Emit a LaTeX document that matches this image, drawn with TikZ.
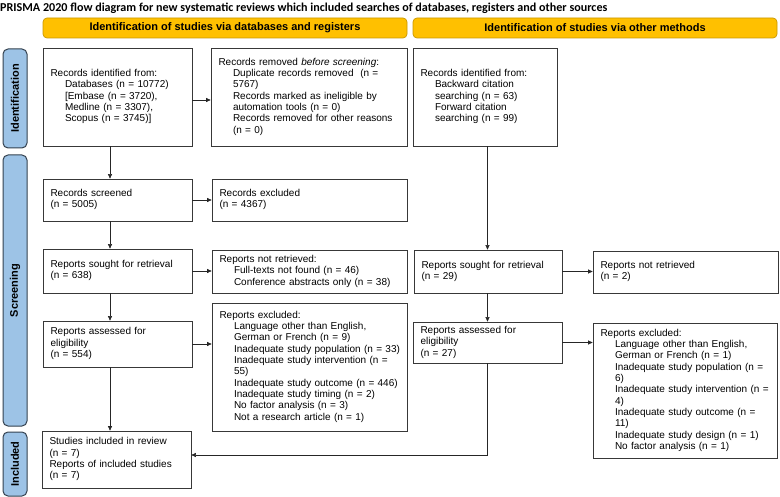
\documentclass[tikz,border=0pt]{standalone}
\usepackage{fontspec}
\setmainfont{Liberation Sans}
\newfontfamily\titlefont{Carlito}
\usetikzlibrary{arrows.meta}
\definecolor{hdrfill}{HTML}{FFC000}
\definecolor{hdrdraw}{HTML}{C99700}
\definecolor{sidefill}{HTML}{9DC3E6}
\definecolor{sidedraw}{HTML}{34414F}
\newcommand{\myind}{\hspace*{14.5pt}}
\newcommand{\boxlines}[1]{\begin{tabular}{@{}l@{}}#1\end{tabular}}
\begin{document}
\begin{tikzpicture}[x=1pt,y=-1pt,
  box/.style={draw=black!78, line width=0.7pt, fill=white, align=left,
    inner xsep=7.5pt, inner ysep=0pt, font=\fontsize{10}{11.35}\selectfont},
  hdr/.style={draw=hdrdraw, fill=hdrfill, line width=0.7pt, rounded corners=4pt,
    minimum width=364pt, minimum height=20pt, inner sep=0pt,
    font=\bfseries\fontsize{11}{13}\selectfont},
  side/.style={draw=sidedraw, fill=sidefill, line width=1pt, rounded corners=5pt,
    rotate=90, minimum height=24pt, inner sep=0pt,
    font=\bfseries\fontsize{11}{13}\selectfont},
  arr/.style={draw=black!85, line width=0.6pt, -{Triangle[length=4.5pt,width=4pt]}}]
\useasboundingbox (0,0) rectangle (780,497);

\node[anchor=west, inner sep=0pt, font=\titlefont\bfseries\fontsize{12.1}{14}\selectfont] (title) at (0,8)
  {PRISMA 2020 flow diagram for new systematic reviews which included searches of databases, registers and other sources};

\node[hdr] (hL) at (225,28) {Identification of studies via databases and registers};
\node[hdr] (hR) at (595,28) {Identification of studies via other methods};

\node[side, minimum width=99pt] (sI) at (15,98.5) {Identification};
\node[side, minimum width=271pt] (sS) at (15,290.5) {Screening};
\node[side, minimum width=64pt] (sN) at (15,464) {Included};

% left column
\node[box, minimum width=149pt, minimum height=98pt, text width=134pt] (idL) at (117.5,97)
  {\boxlines{Records identified from:\\
   \myind Databases (n = 10772)\\
   \myind [Embase (n = 3720),\\
   \myind Medline (n = 3307),\\
   \myind Scopus (n = 3745)]}};
\node[box, minimum width=196pt, minimum height=98pt, text width=181pt] (rem) at (309,97)
  {\boxlines{Records removed \textit{before screening}:\\
   \myind Duplicate records removed\ \ (n =\\
   \myind 5767)\\
   \myind Records marked as ineligible by\\
   \myind automation tools (n = 0)\\
   \myind Records removed for other reasons\\
   \myind (n = 0)}};
\node[box, minimum width=149pt, minimum height=42pt, text width=134pt] (scr) at (117.5,200)
  {\boxlines{Records screened\\(n = 5005)}};
\node[box, minimum width=195pt, minimum height=42pt, text width=180pt] (exc) at (309.5,200)
  {\boxlines{Records excluded\\(n = 4367)}};
\node[box, minimum width=149pt, minimum height=44pt, text width=134pt] (soughtL) at (117.5,271)
  {\boxlines{Reports sought for retrieval\\(n = 638)}};
\node[box, minimum width=195pt, minimum height=43pt, text width=180pt] (notretL) at (309.5,271.5)
  {\boxlines{Reports not retrieved:\\
   \myind Full-texts not found (n = 46)\\
   \myind Conference abstracts only (n = 38)}};
\node[box, minimum width=149pt, minimum height=46pt, text width=134pt] (assL) at (117.5,344)
  {\boxlines{Reports assessed for\\eligibility\\(n = 554)}};
\node[box, minimum width=195pt, minimum height=128pt, text width=180pt] (exclL) at (309.5,367)
  {\boxlines{Reports excluded:\\
   \myind Language other than English,\\
   \myind German or French (n = 9)\\
   \myind Inadequate study population (n = 33)\\
   \myind Inadequate study intervention (n =\\
   \myind 55)\\
   \myind Inadequate study outcome (n = 446)\\
   \myind Inadequate study timing (n = 2)\\
   \myind No factor analysis (n = 3)\\
   \myind Not a research article (n = 1)}};
\node[box, minimum width=149pt, minimum height=57pt, text width=134pt] (incl) at (116.5,459.5)
  {\boxlines{Studies included in review\\(n = 7)\\Reports of included studies\\(n = 7)}};

% right column
\node[box, minimum width=144pt, minimum height=98pt, text width=129pt] (idR) at (485,97)
  {\boxlines{Records identified from:\\
   \myind Backward citation\\
   \myind searching (n = 63)\\
   \myind Forward citation\\
   \myind searching (n = 99)}};
\node[box, minimum width=148pt, minimum height=43pt, text width=133pt] (soughtR) at (488,271.5)
  {\boxlines{Reports sought for retrieval\\(n = 29)}};
\node[box, minimum width=185pt, minimum height=42pt, text width=170pt] (notretR) at (685.5,272)
  {\boxlines{Reports not retrieved\\(n = 2)}};
\node[box, minimum width=149pt, minimum height=41pt, text width=134pt] (assR) at (487.5,342.5)
  {\boxlines{Reports assessed for\\eligibility\\(n = 27)}};
\node[box, minimum width=184pt, minimum height=135pt, text width=169pt] (exclR) at (685,390.5)
  {\boxlines{Reports excluded:\\
   \myind Language other than English,\\
   \myind German or French (n = 1)\\
   \myind Inadequate study population (n =\\
   \myind 6)\\
   \myind Inadequate study intervention (n =\\
   \myind 4)\\
   \myind Inadequate study outcome (n =\\
   \myind 11)\\
   \myind Inadequate study design (n = 1)\\
   \myind No factor analysis (n = 1)}};

\coordinate (colL) at (110,0);
\coordinate (colR) at (487.5,0);
\coordinate (lowR) at (0,455);
\coordinate (topRow) at (0,100);

% connectors
\draw[arr] (idL.east |- topRow) -- (rem.west |- topRow);
\draw[arr] (idL.south -| colL) -- (scr.north -| colL);
\draw[arr] (scr.east) -- (exc.west);
\draw[arr] (scr.south -| colL) -- (soughtL.north -| colL);
\draw[arr] (soughtL.east) -- (soughtL.east -| notretL.west);
\draw[arr] (soughtL.south -| colL) -- (assL.north -| colL);
\draw[arr] (assL.east) -- (assL.east -| exclL.west);
\draw[arr] (assL.south -| colL) -- (incl.north -| colL);

\draw[arr] (idR.south -| colR) -- (soughtR.north -| colR);
\draw[arr] (soughtR.east) -- (soughtR.east -| notretR.west);
\draw[arr] (soughtR.south -| colR) -- (assR.north -| colR);
\draw[arr] (assR.east) -- (assR.east -| exclR.west);
\draw[arr] (assR.south -| colR) -- (lowR -| colR) -- (lowR -| incl.east);
\end{tikzpicture}
\end{document}
